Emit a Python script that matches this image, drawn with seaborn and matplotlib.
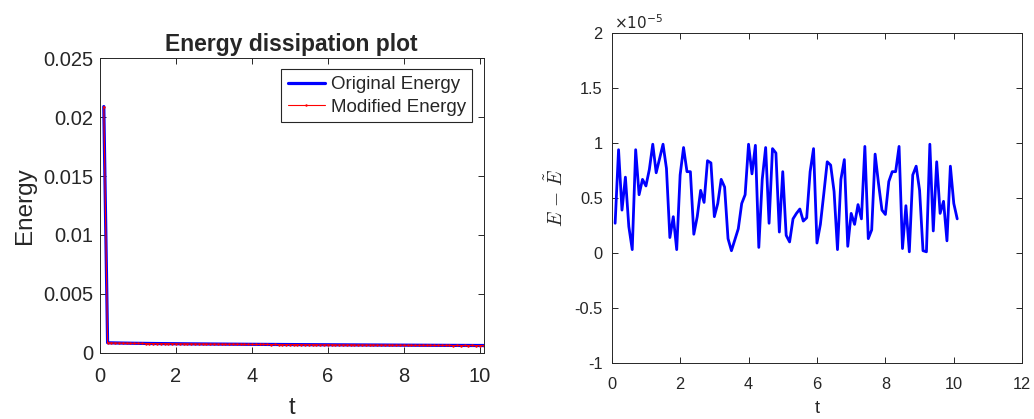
import numpy as np
import pandas as pd
import matplotlib
matplotlib.use("Agg")
import matplotlib.pyplot as plt
from matplotlib.ticker import FuncFormatter, FixedLocator
import seaborn as sns

# ---- data -------------------------------------------------------------
# time grid, dt = 0.1
t = np.round(np.linspace(0.1, 10.1, 101), 1)

# total energy of the original scheme
energy = [
    0.020900,
    0.000850, 0.000842, 0.000835, 0.000829, 0.000823, 0.000818, 0.000813, 0.000808, 0.000804, 0.000800,
    0.000796, 0.000792, 0.000788, 0.000785, 0.000781, 0.000778, 0.000775, 0.000772, 0.000769, 0.000766,
    0.000763, 0.000760, 0.000757, 0.000755, 0.000752, 0.000749, 0.000747, 0.000744, 0.000742, 0.000739,
    0.000737, 0.000735, 0.000732, 0.000730, 0.000728, 0.000726, 0.000723, 0.000721, 0.000719, 0.000717,
    0.000715, 0.000713, 0.000711, 0.000709, 0.000707, 0.000705, 0.000703, 0.000701, 0.000699, 0.000697,
    0.000695, 0.000693, 0.000691, 0.000690, 0.000688, 0.000686, 0.000684, 0.000682, 0.000681, 0.000679,
    0.000677, 0.000675, 0.000674, 0.000672, 0.000670, 0.000669, 0.000667, 0.000665, 0.000664, 0.000662,
    0.000660, 0.000659, 0.000657, 0.000656, 0.000654, 0.000652, 0.000651, 0.000649, 0.000648, 0.000646,
    0.000645, 0.000643, 0.000642, 0.000640, 0.000639, 0.000637, 0.000636, 0.000634, 0.000633, 0.000631,
    0.000630, 0.000628, 0.000627, 0.000625, 0.000624, 0.000623, 0.000621, 0.000620, 0.000619, 0.000618,
]

# E - E~ in units of 1e-5
diff_mantissa = [
    0.27,
    0.94, 0.39, 0.69, 0.24, 0.03, 0.94, 0.53, 0.67, 0.61, 0.76,
    0.99, 0.73, 0.86, 0.99, 0.77, 0.14, 0.33, 0.03, 0.71, 0.96,
    0.74, 0.74, 0.17, 0.33, 0.57, 0.46, 0.84, 0.82, 0.33, 0.45,
    0.67, 0.60, 0.13, 0.02, 0.12, 0.22, 0.45, 0.53, 0.99, 0.72,
    0.98, 0.05, 0.67, 0.96, 0.27, 0.95, 0.91, 0.19, 0.74, 0.16,
    0.10, 0.31, 0.36, 0.40, 0.29, 0.32, 0.74, 0.95, 0.09, 0.26,
    0.54, 0.83, 0.80, 0.56, 0.03, 0.67, 0.85, 0.06, 0.36, 0.26,
    0.44, 0.31, 0.97, 0.13, 0.21, 0.90, 0.63, 0.39, 0.35, 0.65,
    0.74, 0.74, 0.97, 0.04, 0.43, 0.01, 0.71, 0.79, 0.57, 0.02,
    0.01, 0.99, 0.20, 0.83, 0.36, 0.47, 0.11, 0.79, 0.45, 0.31,
]
DIFF_EXP = -5

diff = np.array(diff_mantissa) * 10.0 ** DIFF_EXP
modified = np.array(energy) - diff

left_xticks = [0, 2, 4, 6, 8, 10]
left_yticks = [0, 0.005, 0.01, 0.015, 0.02, 0.025]
right_xticks = [0, 2, 4, 6, 8, 10, 12]
right_yticks = [-1e-5, -0.5e-5, 0, 0.5e-5, 1e-5, 1.5e-5, 2e-5]

df_left = pd.DataFrame({"t": t, "Original Energy": energy, "Modified Energy": modified})
df_right = pd.DataFrame({"t": t, "diff": diff})

# ---- style ------------------------------------------------------------
sns.set_style("ticks")
ink = "#262626"
plt.rcParams.update({
    "font.family": ["Liberation Sans", "DejaVu Sans"],
    "axes.unicode_minus": False,
    "axes.edgecolor": ink,
    "axes.linewidth": 0.7,
    "xtick.color": ink,
    "ytick.color": ink,
    "xtick.direction": "in",
    "ytick.direction": "in",
    "xtick.major.size": 4,
    "ytick.major.size": 4,
    "xtick.major.width": 0.7,
    "ytick.major.width": 0.7,
    "xtick.top": True,
    "ytick.right": True,
    "legend.fancybox": False,
})

fig = plt.figure(figsize=(10.34, 4.19), dpi=100)
ax1 = fig.add_axes([0.0967, 0.158, 0.371, 0.703])
ax2 = fig.add_axes([0.5916, 0.1344, 0.397, 0.786])

# ---- left: energy curves -----------------------------------------------
sns.lineplot(data=df_left, x="t", y="Original Energy", ax=ax1, color="blue",
             linewidth=2.3, label="Original Energy")
sns.lineplot(data=df_left, x="t", y="Modified Energy", ax=ax1, color="red",
             linewidth=0.8, marker=".", markersize=3.5, markeredgewidth=0,
             label="Modified Energy")
ax1.set_xlim(0, 10.1)
ax1.set_ylim(0, 0.025)
ax1.xaxis.set_major_locator(FixedLocator(left_xticks))
ax1.yaxis.set_major_locator(FixedLocator(left_yticks))
ax1.yaxis.set_major_formatter(FuncFormatter(lambda v, _: f"{v:g}"))
ax1.tick_params(labelsize=14.5)
ax1.tick_params(axis="x", pad=10)
ax1.tick_params(axis="y", pad=5)
ax1.set_title("Energy dissipation plot", fontsize=16.5, fontweight="bold", pad=5)
ax1.set_xlabel("t", fontsize=17, labelpad=8)
ax1.set_ylabel("Energy", fontsize=17.5, labelpad=5)
leg = ax1.legend(loc="upper right", fontsize=13.5, frameon=True, framealpha=1,
                 edgecolor=ink, handlelength=2.0, borderaxespad=0.6,
                 labelspacing=0.28, borderpad=0.35, handletextpad=0.3)
leg.get_frame().set_linewidth(0.8)
for s in ax1.spines.values():
    s.set_visible(True)

# ---- right: energy difference ------------------------------------------
sns.lineplot(data=df_right, x="t", y="diff", ax=ax2, color="blue", linewidth=2.0)
ax2.set_xlim(0, 12)
ax2.set_ylim(-1e-5, 2e-5)
ax2.xaxis.set_major_locator(FixedLocator(right_xticks))
ax2.yaxis.set_major_locator(FixedLocator(right_yticks))
ax2.yaxis.set_major_formatter(FuncFormatter(lambda v, _: f"{v / 10.0 ** DIFF_EXP:g}"))
ax2.tick_params(labelsize=11.8)
ax2.tick_params(axis="x", pad=10)
ax2.tick_params(axis="y", pad=6.5)
ax2.set_xlabel("t", fontsize=13, labelpad=6)
ax2.set_ylabel(r"$E\,-\,\tilde{E}$", fontsize=14, labelpad=5, math_fontfamily="cm")
ax2.text(0.005, 1.005, r"$\times10^{%d}$" % DIFF_EXP, transform=ax2.transAxes,
         ha="left", va="bottom", fontsize=11, color=ink, math_fontfamily="dejavusans")
for s in ax2.spines.values():
    s.set_visible(True)

fig.savefig("out.png", dpi=100)
